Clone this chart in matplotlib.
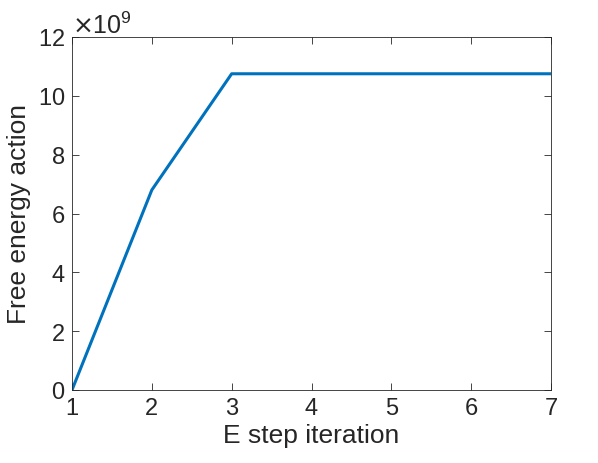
import numpy as np
import matplotlib
matplotlib.use('Agg')
import matplotlib.pyplot as plt
from matplotlib.ticker import ScalarFormatter

iterations = [1, 2, 3, 4, 5, 6, 7]
free_energy = [0.0, 6.8e9, 10.75e9, 10.75e9, 10.75e9, 10.75e9, 10.75e9]

plt.rcParams['font.family'] = ['Liberation Sans', 'DejaVu Sans']

fig = plt.figure(figsize=(5.98, 4.64), dpi=100)
ax = fig.add_axes([72 / 598, 1 - 391 / 464, 479 / 598, 353 / 464])

ax.plot(iterations, free_energy, color='#0072BD', linewidth=2.2)

ax.set_xlim(1, 7)
ax.set_ylim(0, 12e9)
ax.set_xticks(iterations)
ax.set_yticks(np.arange(0, 13e9, 2e9))

# fixed x10^9 exponent like the original
fmt = ScalarFormatter(useMathText=True)
fmt.set_powerlimits((9, 9))
ax.yaxis.set_major_formatter(fmt)
ax.yaxis.get_offset_text().set_fontsize(18)
ax.yaxis.get_offset_text().set_color('#262626')

ax.tick_params(direction='in', top=True, right=True, length=5, width=0.6,
               labelsize=17, colors='#262626', pad=5)
for s in ax.spines.values():
    s.set_color('#262626')
    s.set_linewidth(0.6)

ax.set_xlabel('E step iteration', fontsize=19, color='#262626', labelpad=3)
ax.set_ylabel('Free energy action', fontsize=19, color='#262626', labelpad=5)

fig.savefig('out.png', dpi=100)
